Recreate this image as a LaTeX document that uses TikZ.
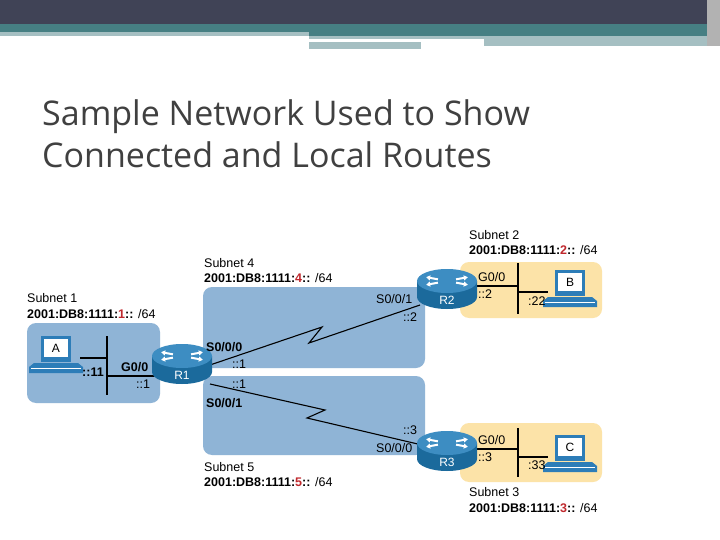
\documentclass[tikz,border=0pt]{standalone}
\usepackage{fontspec}
\setmainfont{Liberation Sans}
\newfontfamily\titlefont{Open Sans}
\usetikzlibrary{arrows.meta}
\definecolor{hdr}{HTML}{404356}
\definecolor{teal}{HTML}{467F83}
\definecolor{lteal}{HTML}{A5BFC2}
\definecolor{netblue}{HTML}{8FB4D6}
\definecolor{netorg}{HTML}{FCE3A8}
\definecolor{rtdark}{HTML}{1B6A9C}
\definecolor{rttop}{HTML}{3D8DC2}
\definecolor{redt}{HTML}{C0282D}
\definecolor{pcblue}{HTML}{2D7DB8}
\tikzset{
  net/.style={rounded corners=9pt, draw=none},
  lbl/.style={font=\fontsize{12.5}{13}\selectfont, inner sep=0pt, anchor=west},
  blbl/.style={lbl, font=\fontsize{12.5}{13}\selectfont\bfseries},
  wire/.style={line width=1.4pt, black},
  pics/router/.style={code={
    \fill[rtdark] (-30,0) -- (-30,16) arc[start angle=180,end angle=0,x radius=30,y radius=12] -- (30,0) -- cycle;
    \fill[rttop] (0,0) ellipse[x radius=30, y radius=12];
    \foreach \a in {25,155,205,335}{
      \draw[white, line width=2pt, -{Triangle[length=4pt,width=5pt]}] ({10*cos(\a)},{4*sin(\a)}) -- ({23*cos(\a)},{9*sin(\a)});
    }
    \node[text=white, font=\fontsize{12}{13}\selectfont] at (0,19) {#1};
  }},
  pics/pc/.style={code={
    \fill[pcblue] (-15,-20) rectangle (15,6);
    \fill[white] (-12,-17) rectangle (12,1);
    \node[font=\fontsize{12}{13}\selectfont] at (0,-8) {#1};
    \fill[pcblue] (-22,7) -- (22,7) -- (27,11) -- (27,17) -- (-27,17) -- (-27,11) -- cycle;
    \draw[white, line width=0.7pt] (-25,12) -- (25,12);
  }}
}
\begin{document}
\begin{tikzpicture}[x=1pt,y=-1pt]
\useasboundingbox (0,0) rectangle (720,540);
\fill[white] (0,0) rectangle (720,540);
% header
\fill[hdr] (0,0) rectangle (720,24);
\fill[teal] (0,24) rectangle (720,32);
\fill[lteal] (0,32) rectangle (309,36);
\fill[teal] (309,32) rectangle (707,36);
\fill[lteal] (309,36) rectangle (484,39);
\fill[lteal] (309,42) rectangle (421,49);
\fill[lteal] (484,36) rectangle (707,46);
\fill[gray!60] (707,0) rectangle (720,46);
% title
\node[anchor=west, text=black!75, font=\titlefont\fontsize{34}{42}\selectfont, align=left, inner sep=0pt] (title) at (42,134) {Sample Network Used to Show\\Connected and Local Routes};
% subnet areas
\fill[netblue, net] (27,323) rectangle (160,403);
\fill[netblue, net] (203,287) rectangle (425,368);
\fill[netblue, net] (203,376) rectangle (425,455);
\fill[netorg, net] (460,262) rectangle (602,318);
\fill[netorg, net] (460,423) rectangle (602,482);
% coordinates
\coordinate (r1) at (182,356);
\coordinate (r2) at (447,281);
\coordinate (r3) at (447,443);
% LAN 1
\draw[wire] (107,336) -- (107,395);
\draw[wire] (80,358) coordinate (pa) -- (107,358);
\draw[wire] (107,376) -- (158,376) coordinate (r1w);
% LAN 2
\draw[wire] (518,263) -- (518,314);
\draw[wire] (475,286) -- (518,286);
\draw[wire] (518,292) -- (548,292);
% LAN 3
\draw[wire] (518,428) -- (518,477);
\draw[wire] (475,449) -- (518,449);
\draw[wire] (518,457) -- (548,457);
% serial links
\draw[wire, line width=1.1pt] (210,365) coordinate (s40) -- (322,327) -- (309,343) -- (420,305) coordinate (s41);
\draw[wire, line width=1.1pt] (210,384) coordinate (s51) -- (325,410) -- (307,418) -- (422,445) coordinate (s50);
% routers
\pic (R1) at (r1) {router={R1}};
\pic (R2) at (r2) {router={R2}};
\pic (R3) at (r3) {router={R3}};
% PCs
\pic (A) at (56,356) {pc={A}};
\pic (B) at (570,290) {pc={B}};
\pic (C) at (570,455) {pc={C}};
% subnet labels
\node[lbl] (n1a) at (27,298) {Subnet 1};
\node[blbl] (n1b) at (27,314) {2001:DB8:1111:\textcolor{redt}{1}::\mdseries{} /64};
\node[lbl] (n4a) at (204,263) {Subnet 4};
\node[blbl] (n4b) at (204,278) {2001:DB8:1111:\textcolor{redt}{4}::\mdseries{} /64};
\node[lbl] (n2a) at (469,235) {Subnet 2};
\node[blbl] (n2b) at (469,250) {2001:DB8:1111:\textcolor{redt}{2}::\mdseries{} /64};
\node[lbl] (n5a) at (204,467) {Subnet 5};
\node[blbl] (n5b) at (204,482) {2001:DB8:1111:\textcolor{redt}{5}::\mdseries{} /64};
\node[lbl] (n3a) at (469,492) {Subnet 3};
\node[blbl] (n3b) at (469,508) {2001:DB8:1111:\textcolor{redt}{3}::\mdseries{} /64};
% interface labels
\node[blbl] (i11) at (82,372) {::11};
\node[blbl] (ig1) at (121,367) {G0/0};
\node[lbl] (ia1) at (136,384) {::1};
\node[blbl] (is400) at (206,347) {S0/0/0};
\node[lbl] (ia400) at (232,364) {::1};
\node[lbl] (ia501) at (232,384) {::1};
\node[blbl] (is501) at (206,403) {S0/0/1};
\node[lbl] (is401) at (376,299) {S0/0/1};
\node[lbl] (ia401) at (403,317) {::2};
\node[lbl] (ig2) at (478,277) {G0/0};
\node[lbl] (ia2) at (478,294) {::2};
\node[lbl] (i22) at (528,301) {:22};
\node[lbl] (ia503) at (403,430) {::3};
\node[lbl] (is500) at (376,448) {S0/0/0};
\node[lbl] (ig3) at (478,440) {G0/0};
\node[lbl] (ia3) at (478,457) {::3};
\node[lbl] (i33) at (528,465) {:33};
\end{tikzpicture}
\end{document}
